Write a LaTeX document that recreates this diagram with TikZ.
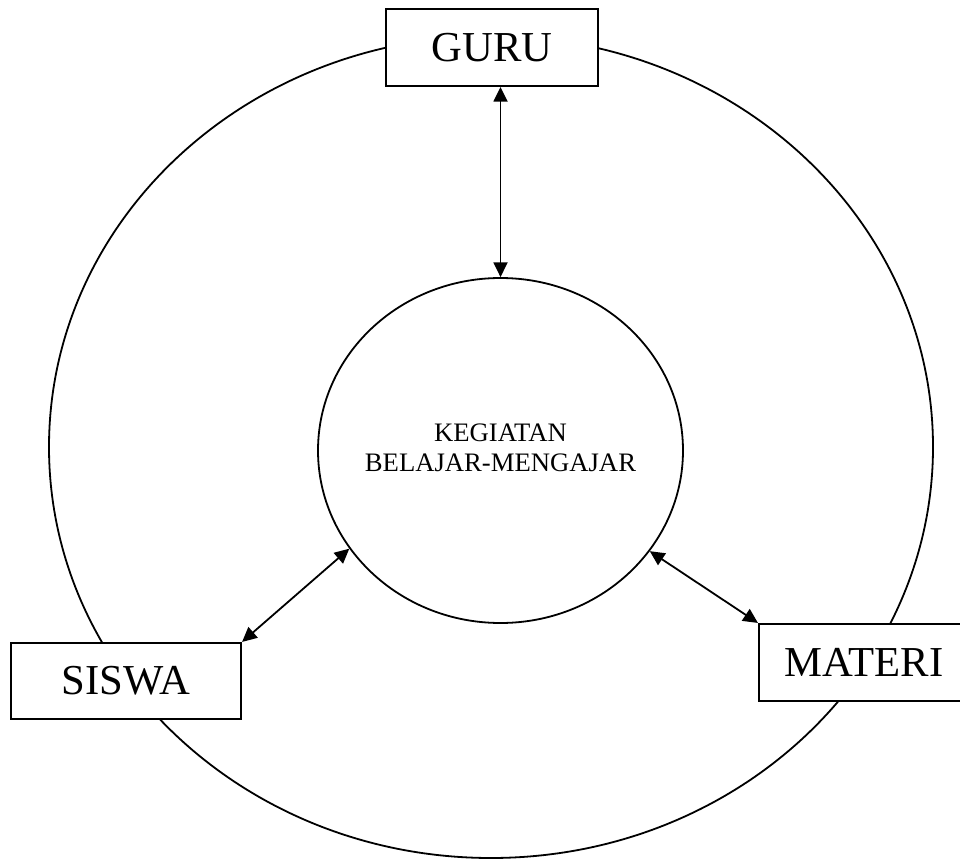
\documentclass[tikz,border=0pt]{standalone}
\usepackage{fontspec}
\setmainfont{Liberation Serif}
\usetikzlibrary{shapes.geometric,arrows.meta}
\begin{document}
\begin{tikzpicture}[x=0.75pt,y=-0.75pt,
  labelbox/.style={draw,line width=1.6pt,fill=white,rectangle,inner sep=0pt,
    font=\fontsize{32}{36}\selectfont},
  ring/.style={draw,line width=1.35pt,ellipse,inner sep=0pt},
  link/.style={line width=1.35pt,{Triangle[length=11pt,width=10.5pt]}-{Triangle[length=11pt,width=10.5pt]}}]
\useasboundingbox (0,0) rectangle (960,859);
\node[ring,minimum width=663pt,minimum height=616.5pt] (outer) at (491,447) {};
\node[ring,minimum width=273.75pt,minimum height=258.75pt] (inner) at (500.5,450.5) {};
\node[align=center,inner sep=0pt,font=\fontsize{20}{22.5}\selectfont] (kbm) at (500.5,448)
  {KEGIATAN\\BELAJAR-MENGAJAR};
\node[labelbox,minimum width=159pt,minimum height=57.75pt] (guru) at (492,47.5) {GURU};
\node[labelbox,minimum width=172.5pt,minimum height=57pt] (siswa) at (126,681) {SISWA};
\node[labelbox,minimum width=157.5pt,minimum height=57.75pt] (materi) at (864,662.5) {MATERI};
\draw[link] (guru.south -| inner.north) -- (inner.north);
\draw[link] (siswa.north east) -- (inner.213.5);
\draw[link] (inner.326.1) -- (materi.north west);
\end{tikzpicture}
\end{document}
